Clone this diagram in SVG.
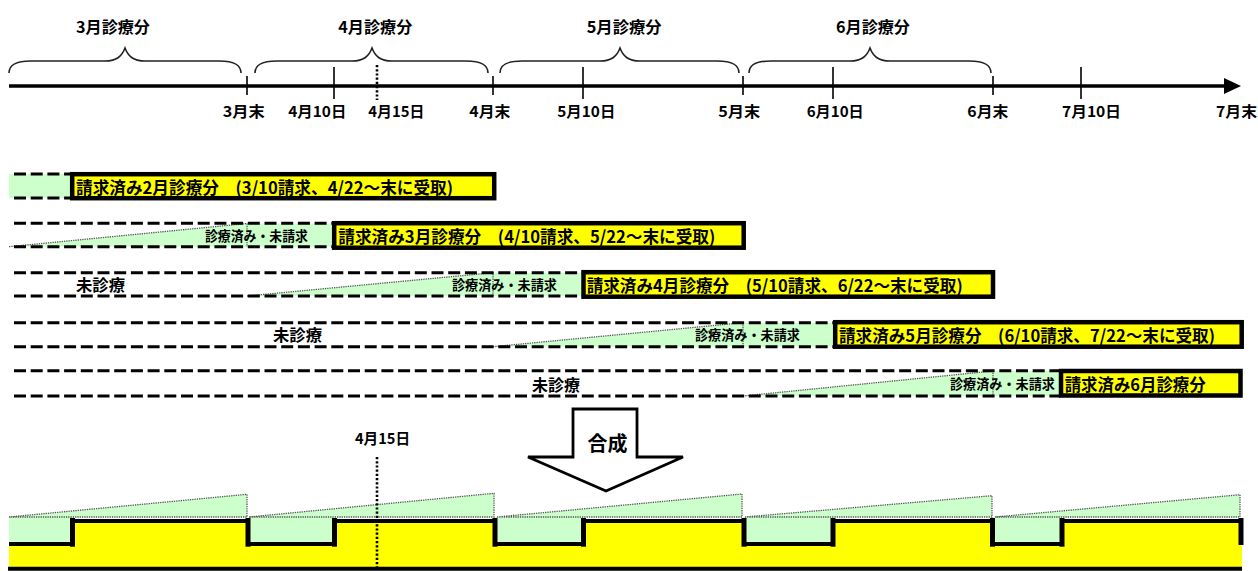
<svg xmlns="http://www.w3.org/2000/svg" width="1258" height="571" viewBox="0 0 1258 571">
<style>
text{font-family:"Noto Sans CJK JP","Noto Sans CJK SC",sans-serif;font-weight:bold;fill:#000}
.ax{stroke:#000;stroke-width:3.5;fill:none}
.tick{stroke:#000;stroke-width:1.6}
.brace{fill:none;stroke:#222;stroke-width:1.6}
.dash{stroke:#000;stroke-width:3;stroke-dasharray:12 4.7;fill:none}
.g{fill:#CCFFCC;stroke:none}
.dot{fill:none;stroke:#555;stroke-width:1.3;stroke-dasharray:1.3 1}
.box{fill:#FFFF00;stroke:#000;stroke-width:4.5}
.bt{font-size:17px}
.st{font-size:13.5px}
.lb{font-size:15px}
.hd{font-size:16px}
.vdot{stroke:#000;stroke-width:2.6;stroke-dasharray:2.2 2}
.step{fill:none;stroke:#000;stroke-width:4}
.vstep{stroke:#000;stroke-width:5}
</style>

<g id="timeline">
  <line class="ax" x1="9" y1="86" x2="1226" y2="86"/>
  <polygon points="1224,78 1241,86 1224,94" fill="#000"/>
  <line class="tick" x1="247" y1="76" x2="247" y2="95"/>
  <line class="tick" x1="493" y1="76" x2="493" y2="95"/>
  <line class="tick" x1="743" y1="76" x2="743" y2="95"/>
  <line class="tick" x1="993" y1="76" x2="993" y2="95"/>
  <line class="tick" x1="334" y1="67" x2="334" y2="99"/>
  <line class="tick" x1="583" y1="67" x2="583" y2="99"/>
  <line class="tick" x1="833" y1="67" x2="833" y2="99"/>
  <line class="tick" x1="1081" y1="67" x2="1081" y2="99"/>
  <line class="vdot" x1="377" y1="65" x2="377" y2="100"/>
  <text class="lb" x="222.7" y="117" textLength="42" lengthAdjust="spacingAndGlyphs">3月末</text>
  <text class="lb" x="288.3" y="117" textLength="58" lengthAdjust="spacingAndGlyphs">4月10日</text>
  <text class="lb" x="368.3" y="117" textLength="56" lengthAdjust="spacingAndGlyphs">4月15日</text>
  <text class="lb" x="469.3" y="117" textLength="41" lengthAdjust="spacingAndGlyphs">4月末</text>
  <text class="lb" x="557.3" y="117" textLength="58" lengthAdjust="spacingAndGlyphs">5月10日</text>
  <text class="lb" x="718.3" y="117" textLength="42" lengthAdjust="spacingAndGlyphs">5月末</text>
  <text class="lb" x="806.7" y="117" textLength="57" lengthAdjust="spacingAndGlyphs">6月10日</text>
  <text class="lb" x="967.3" y="117" textLength="41" lengthAdjust="spacingAndGlyphs">6月末</text>
  <text class="lb" x="1062" y="117" textLength="59" lengthAdjust="spacingAndGlyphs">7月10日</text>
  <text class="lb" x="1216" y="117" textLength="41" lengthAdjust="spacingAndGlyphs">7月末</text>
</g>

<g id="braces">
  <path class="brace" d="M 9 73 C 9 65 15 61 31 61 L 105 61 C 117 61 122 56 125 48 C 128 56 133 61 145 61 L 219 61 C 235 61 241 65 241 73"/>
  <path class="brace" d="M 255 73 C 255 65 261 61 277 61 L 352 61 C 364 61 369 56 372 48 C 375 56 380 61 392 61 L 466 61 C 482 61 488 65 488 73"/>
  <path class="brace" d="M 500 73 C 500 65 506 61 522 61 L 600 61 C 612 61 617 56 620 48 C 623 56 628 61 640 61 L 717 61 C 733 61 739 65 739 73"/>
  <path class="brace" d="M 749 73 C 749 65 755 61 771 61 L 850 61 C 862 61 867 56 870 48 C 873 56 878 61 890 61 L 969 61 C 985 61 991 65 991 73"/>
  <text class="hd" x="76" y="32.5" textLength="74" lengthAdjust="spacingAndGlyphs">3月診療分</text>
  <text class="hd" x="338.3" y="32.5" textLength="74" lengthAdjust="spacingAndGlyphs">4月診療分</text>
  <text class="hd" x="586.7" y="32.5" textLength="75" lengthAdjust="spacingAndGlyphs">5月診療分</text>
  <text class="hd" x="836" y="32.5" textLength="74" lengthAdjust="spacingAndGlyphs">6月診療分</text>
</g>

<g id="row1">
  <rect class="g" x="9" y="174" width="62" height="24"/>
  <line class="dash" x1="14" y1="174" x2="71" y2="174"/>
  <line class="dash" x1="14" y1="198" x2="71" y2="198"/>
  <rect class="box" x="72.2" y="174.2" width="422" height="24"/>
  <text class="bt" x="76" y="194" textLength="377" lengthAdjust="spacingAndGlyphs">請求済み2月診療分　(3/10請求、4/22～末に受取)</text>
</g>

<g id="row2">
  <polygon class="g" points="9,246.7 247,223.5 333,223.5 333,246.7"/>
  <path class="dot" d="M 9 246.7 L 247 223.5 L 247 246.7"/>
  <line class="dash" x1="14" y1="223.3" x2="333" y2="223.3"/>
  <line class="dash" x1="14" y1="246.7" x2="333" y2="246.7"/>
  <text class="st" x="205" y="241" textLength="103" lengthAdjust="spacingAndGlyphs">診療済み・未請求</text>
  <rect class="box" x="334.2" y="223.2" width="409.5" height="24.5"/>
  <text class="bt" x="338.3" y="243" textLength="377" lengthAdjust="spacingAndGlyphs">請求済み3月診療分　(4/10請求、5/22～末に受取)</text>
</g>

<g id="row3">
  <polygon class="g" points="247,296 493,272.7 583,272.7 583,296"/>
  <path class="dot" d="M 247 296 L 493 272.7 L 493 296"/>
  <line class="dash" x1="14" y1="272.7" x2="582" y2="272.7"/>
  <line class="dash" x1="14" y1="296" x2="582" y2="296"/>
  <text class="hd" x="76" y="291" textLength="49" lengthAdjust="spacingAndGlyphs">未診療</text>
  <text class="st" x="452" y="290" textLength="105" lengthAdjust="spacingAndGlyphs">診療済み・未請求</text>
  <rect class="box" x="583.5" y="272.2" width="409.5" height="24.5"/>
  <text class="bt" x="586.7" y="292" textLength="376" lengthAdjust="spacingAndGlyphs">請求済み4月診療分　(5/10請求、6/22～末に受取)</text>
</g>

<g id="row4">
  <polygon class="g" points="493,346.7 743,322.7 833,322.7 833,346.7"/>
  <path class="dot" d="M 493 346.7 L 743 322.7 L 743 346.7"/>
  <line class="dash" x1="14" y1="322.7" x2="833" y2="322.7"/>
  <line class="dash" x1="14" y1="346.7" x2="833" y2="346.7"/>
  <text class="hd" x="273" y="341" textLength="49" lengthAdjust="spacingAndGlyphs">未診療</text>
  <text class="st" x="695" y="340" textLength="105" lengthAdjust="spacingAndGlyphs">診療済み・未請求</text>
  <rect class="box" x="835.2" y="322.2" width="406.5" height="24.5"/>
  <text class="bt" x="839" y="342" textLength="376" lengthAdjust="spacingAndGlyphs">請求済み5月診療分　(6/10請求、7/22～末に受取)</text>
</g>

<g id="row5">
  <polygon class="g" points="743,396 993,371 1060,371 1060,396"/>
  <path class="dot" d="M 743 396 L 993 371 L 993 396"/>
  <line class="dash" x1="14" y1="370.7" x2="1060" y2="370.7"/>
  <line class="dash" x1="14" y1="396" x2="1060" y2="396"/>
  <text class="hd" x="532" y="390.5" textLength="48" lengthAdjust="spacingAndGlyphs">未診療</text>
  <text class="st" x="950" y="388.5" textLength="105" lengthAdjust="spacingAndGlyphs">診療済み・未請求</text>
  <rect class="box" x="1061" y="371" width="179.5" height="24.5"/>
  <text class="bt" x="1064.7" y="391" textLength="141" lengthAdjust="spacingAndGlyphs">請求済み6月診療分</text>
</g>

<g id="merge-arrow">
  <polygon points="573,409 637,409 637,457 683,457 606,491 528,457 573,457" fill="#fff" stroke="#000" stroke-width="2.8" stroke-linejoin="miter"/>
  <text x="607.5" y="451" font-size="20" text-anchor="middle">合成</text>
</g>

<g id="combined">
  <polygon class="g" points="9,517 247,494.3 247,517"/>
  <polygon class="g" points="249,517 494,493.3 494,517"/>
  <polygon class="g" points="497,517 742,494 742,517"/>
  <polygon class="g" points="745,517 992,495.7 992,517"/>
  <polygon class="g" points="995,517 1240,494.7 1240,517"/>
  <rect class="g" x="9" y="517" width="63.5" height="27"/>
  <rect class="g" x="248" y="517" width="86.5" height="27"/>
  <rect class="g" x="495" y="517" width="88.5" height="27"/>
  <rect class="g" x="744" y="517" width="89" height="27"/>
  <rect class="g" x="992.5" y="517" width="69.5" height="27"/>
  <path class="dot" d="M 9 517 L 247 494.3 L 247 517 Z"/>
  <path class="dot" d="M 249 517 L 494 493.3 L 494 517 Z"/>
  <path class="dot" d="M 497 517 L 742 494 L 742 517 Z"/>
  <path class="dot" d="M 745 517 L 992 495.7 L 992 517 Z"/>
  <path class="dot" d="M 995 517 L 1240 494.7 L 1240 517 Z"/>
  <path d="M 9 544 H 72.5 V 521 H 248 V 544 H 334.5 V 521 H 495 V 544 H 583.5 V 521 H 744 V 544 H 833 V 521 H 992.5 V 544 H 1062 V 521 H 1242 V 568 H 9 Z" fill="#FFFF00"/>
  <path class="step" d="M 9 544 H 72.5 V 521 H 248 V 544 H 334.5 V 521 H 495 V 544 H 583.5 V 521 H 744 V 544 H 833 V 521 H 992.5 V 544 H 1062 V 521 H 1241"/>
  <line class="vstep" x1="72.5" y1="518" x2="72.5" y2="546.7"/>
  <line class="vstep" x1="248" y1="518" x2="248" y2="546.7"/>
  <line class="vstep" x1="334.5" y1="518" x2="334.5" y2="546.7"/>
  <line class="vstep" x1="495" y1="518" x2="495" y2="546.7"/>
  <line class="vstep" x1="583.5" y1="518" x2="583.5" y2="546.7"/>
  <line class="vstep" x1="744" y1="518" x2="744" y2="546.7"/>
  <line class="vstep" x1="833" y1="518" x2="833" y2="546.7"/>
  <line class="vstep" x1="992.5" y1="518" x2="992.5" y2="546.7"/>
  <line class="vstep" x1="1062" y1="518" x2="1062" y2="546.7"/>
  <line class="vstep" x1="1241" y1="518" x2="1241" y2="545"/>
  <line x1="8" y1="568.7" x2="1242" y2="568.7" stroke="#000" stroke-width="4"/>
  <line class="vdot" x1="377" y1="457" x2="377" y2="568"/>
  <text class="lb" x="355" y="443.5" textLength="55" lengthAdjust="spacingAndGlyphs">4月15日</text>
</g>
</svg>
